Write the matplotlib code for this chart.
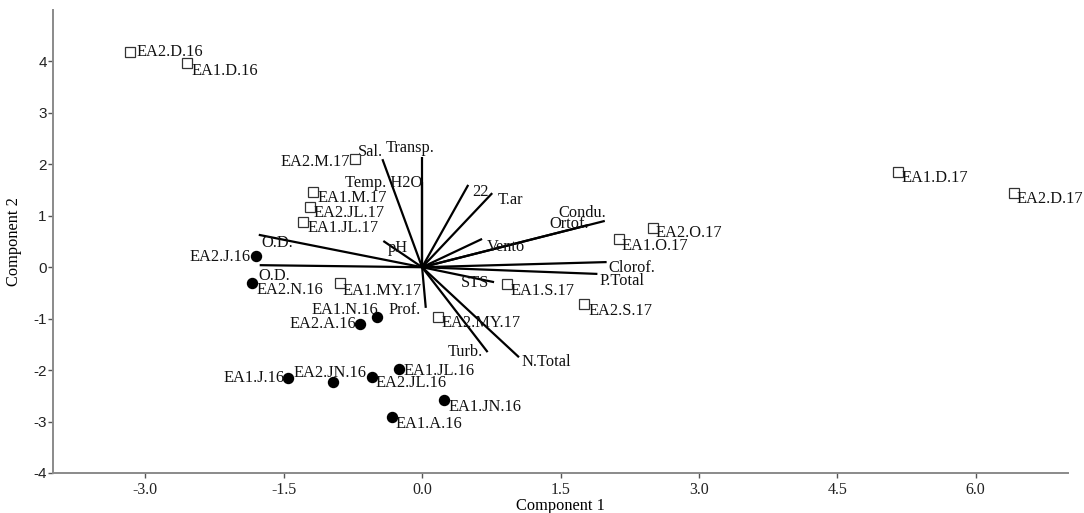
import matplotlib
matplotlib.use("Agg")
import matplotlib.pyplot as plt

# Sample scores on the first two components
open_labels = ["EA2.D.16", "EA1.D.16", "EA2.M.17", "EA1.M.17", "EA2.JL.17",
               "EA1.JL.17", "EA1.MY.17", "EA2.MY.17", "EA1.S.17", "EA2.S.17",
               "EA1.O.17", "EA2.O.17", "EA1.D.17", "EA2.D.17"]
open_pc1 = [-3.17, -2.55, -0.73, -1.18, -1.21, -1.29, -0.89, 0.17, 0.92, 1.76,
            2.13, 2.50, 5.16, 6.41]
open_pc2 = [4.19, 3.97, 2.10, 1.46, 1.17, 0.88, -0.31, -0.97, -0.33, -0.72,
            0.55, 0.76, 1.85, 1.44]

filled_labels = ["EA2.J.16", "EA2.N.16", "EA1.N.16", "EA2.A.16", "EA1.J.16",
                 "EA2.JN.16", "EA2.JL.16", "EA1.JL.16", "EA1.JN.16", "EA1.A.16"]
filled_pc1 = [-1.80, -1.84, -0.49, -0.67, -1.45, -0.97, -0.54, -0.25, 0.24, -0.33]
filled_pc2 = [0.22, -0.31, -0.97, -1.10, -2.16, -2.23, -2.14, -1.98, -2.58, -2.91]

# Variable loadings
var_labels = ["Transp.", "Sal.", "Temp. H2O", "22", "T.ar", "Condu.", "Ortof.",
              "Vento", "Clorof.", "P.Total", "STS", "Turb.", "N.Total", "Prof.",
              "pH", "O.D.", "O.D."]
var_pc1 = [0.00, -0.43, 0.00, 0.50, 0.76, 1.98, 1.80, 0.65, 2.00, 1.90, 0.78,
           0.71, 1.05, 0.04, -0.42, -1.77, -1.76]
var_pc2 = [2.14, 2.10, 1.65, 1.60, 1.44, 0.90, 0.82, 0.55, 0.10, -0.13, -0.29,
           -1.65, -1.75, -0.79, 0.51, 0.63, 0.04]

x_ticks = [-3.0, -1.5, 0.0, 1.5, 3.0, 4.5, 6.0]
y_ticks = [-4, -3, -2, -1, 0, 1, 2, 3, 4]

# Label placement: (dx px, dy px upward, horizontal alignment)
var_place = [(-12, 9, "center"), (1, 7, "right"), (0, -1, "right"), (4, -7, "left"),
             (5, -7, "left"), (1, 8, "right"), (1, 1, "right"), (5, -8, "left"),
             (2, -6, "left"), (2, -7, "left"), (-5, -1, "right"), (-5, 0, "right"),
             (3, -5, "left"), (-5, -2, "right"), (4, -7, "left"), (3, -8, "left"),
             (-1, -11, "left")]
open_place = [(7, 0, "left"), (5, -8, "left"), (-5, -3, "right"), (4, -6, "left"),
              (3, -6, "left"), (4, -6, "left"), (3, -8, "left"), (4, -6, "left"),
              (4, -7, "left"), (4, -7, "left"), (3, -7, "left"), (3, -5, "left"),
              (3, -6, "left"), (3, -6, "left")]
filled_place = [(-5, -1, "right"), (4, -7, "left"), (1, 7, "right"), (-4, 0, "right"),
                (-4, 0, "right"), (-3, 9, "center"), (3, -6, "left"), (4, -2, "left"),
                (4, -7, "left"), (4, -7, "left")]

SERIF = ["Liberation Serif", "DejaVu Serif"]
FS = 11.8
PX = 0.72  # points per pixel at 100 dpi

fig = plt.figure(figsize=(10.84, 5.13), dpi=100)
ax = fig.add_axes([53 / 1084, 40 / 513, (1068 - 53) / 1084, (473 - 10) / 513])


def put_label(text, x, y, place):
    dx, dy, ha = place
    ax.annotate(text, (x, y), xytext=(dx * PX, dy * PX), textcoords="offset points",
                ha=ha, va="center", fontsize=FS, family=SERIF, color="#111111",
                annotation_clip=False)


# Loading vectors
for lab, vx, vy, pl in zip(var_labels, var_pc1, var_pc2, var_place):
    ax.plot([0, vx], [0, vy], color="black", lw=1.6, solid_capstyle="butt", zorder=2)
    put_label(lab, vx, vy, pl)

# Sample points
ax.plot(open_pc1, open_pc2, ls="none", marker="s", ms=7.2, mfc="white",
        mec="#333333", mew=0.9, zorder=3)
ax.plot(filled_pc1, filled_pc2, ls="none", marker="o", ms=7.2, mfc="black",
        mec="black", zorder=3)
for lab, x, y, pl in zip(open_labels, open_pc1, open_pc2, open_place):
    put_label(lab, x, y, pl)
for lab, x, y, pl in zip(filled_labels, filled_pc1, filled_pc2, filled_place):
    put_label(lab, x, y, pl)

ax.set_xlim(-4.0, 7.0)
ax.set_ylim(-4.0, 5.0)
ax.set_xticks(x_ticks)
ax.set_xticklabels([f"{t:.1f}" for t in x_ticks], family=SERIF, fontsize=11.5)
ax.set_yticks(y_ticks)
ax.set_yticklabels([str(t) for t in y_ticks], family=["Liberation Sans"], fontsize=11)

for side in ("top", "right"):
    ax.spines[side].set_visible(False)
for side in ("left", "bottom"):
    ax.spines[side].set_color("#8a8a8a")
    ax.spines[side].set_linewidth(1.4)
ax.tick_params(axis="x", direction="out", length=3.5, width=1, color="#555555",
               pad=3, labelcolor="#222222")
ax.tick_params(axis="y", direction="out", length=3.5, width=1, color="#555555",
               pad=1, labelcolor="#222222")

ax.set_xlabel("Component 1", family=SERIF, fontsize=FS, labelpad=0)
ax.set_ylabel("Component 2", family=SERIF, fontsize=FS, labelpad=8)

fig.savefig("out.png", dpi=100)
